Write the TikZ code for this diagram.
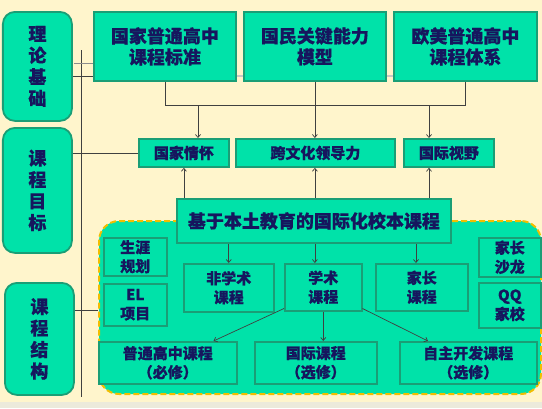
\documentclass[tikz,border=0pt]{standalone}
\usepackage{fontspec}
\setmainfont{Noto Sans CJK SC}[BoldFeatures={FakeBold=0.5}]
\usetikzlibrary{arrows.meta}
\definecolor{bg}{HTML}{FFF5CC}
\definecolor{boxfill}{HTML}{00E2A9}
\definecolor{boxline}{HTML}{1A9E76}
\definecolor{txt}{HTML}{16165E}
\definecolor{dashc}{HTML}{F2BE00}
\definecolor{conn}{HTML}{404040}
\definecolor{strip}{HTML}{ECEADB}
\begin{document}
\begin{tikzpicture}[x=1pt,y=-1pt,
 base/.style={draw=boxline, fill=boxfill, line width=1.8pt, text=txt, align=center, anchor=north west, inner sep=0pt},
 sidebox/.style={base, rounded corners=12pt, font=\bfseries\fontsize{18}{21.5}\selectfont},
 topbox/.style={base, font=\bfseries\fontsize{18}{21}\selectfont},
 goalbox/.style={base, font=\bfseries\fontsize{15}{17}\selectfont},
 mainbox/.style={base, font=\bfseries\fontsize{18}{21}\selectfont},
 subbox/.style={base, line width=1.5pt, font=\bfseries\fontsize{15}{19}\selectfont},
 region/.style={draw=dashc, fill=boxfill, line width=2pt, dash pattern=on 6pt off 3pt, rounded corners=20pt, anchor=north west, inner sep=0pt},
 link/.style={draw=conn, line width=0.7pt},
 arr/.style={link, -{Straight Barb[length=3pt,width=5pt]}},
 greylink/.style={draw=black!22, line width=1.5pt},
]
\path[use as bounding box, fill=bg] (0,0) rectangle (542,408);
\fill[strip] (0,402) rectangle (542,408);

% side lines
\coordinate (vt) at (81,50);
\coordinate (vb) at (81,397);
\draw[link] (vt) -- (vb);

% left boxes
\node[sidebox, minimum width=69pt, minimum height=109pt] (L1) at (2,11) {理\\论\\基\\础};
\node[sidebox, minimum width=69pt, minimum height=125pt] (L2) at (2,127) {课\\程\\目\\标};
\node[sidebox, minimum width=69pt, minimum height=112pt] (L3) at (4,282) {课\\程\\结\\构};

% top boxes
\node[topbox, minimum width=142pt, minimum height=69pt] (A) at (93,11) {国家普通高中\\课程标准};
\node[topbox, minimum width=142pt, minimum height=69pt] (B) at (243,11) {国民关键能力\\模型};
\node[topbox, minimum width=143pt, minimum height=69pt] (C) at (393,11) {欧美普通高中\\课程体系};

% goal boxes
\node[goalbox, minimum width=90pt, minimum height=28pt] (G1) at (138,138) {国家情怀};
\node[goalbox, minimum width=159pt, minimum height=28pt] (G2) at (235,138) {跨文化领导力};
\node[goalbox, minimum width=90pt, minimum height=28pt] (G3) at (403,138) {国际视野};

% region
\node[region, minimum width=442pt, minimum height=173pt] (R) at (98,220) {};

% main box
\node[mainbox, minimum width=274pt, minimum height=44pt] (M) at (176,198) {基于本土教育的国际化校本课程};

% inner boxes
\node[subbox, minimum width=63pt, minimum height=38pt] (S1) at (103,237) {生涯\\规划};
\node[subbox, minimum width=63pt, minimum height=42pt] (S2) at (103,283) {EL\\项目};
\node[subbox, minimum width=90pt, minimum height=48pt] (N) at (183,263) {非学术\\课程};
\node[subbox, minimum width=77pt, minimum height=47pt] (X) at (284,263) {学术\\课程};
\node[subbox, minimum width=92pt, minimum height=47pt] (P) at (375,263) {家长\\课程};
\node[subbox, minimum width=62pt, minimum height=39pt] (S3) at (478,237) {家长\\沙龙};
\node[subbox, minimum width=62pt, minimum height=45pt] (S4) at (478,282) {QQ\\家校};
\node[subbox, minimum width=138pt, minimum height=42pt] (B1) at (98,341) {普通高中课程\\（必修）};
\node[subbox, minimum width=122pt, minimum height=42pt] (B2) at (254,341) {国际课程\\（选修）};
\node[subbox, minimum width=137pt, minimum height=42pt] (B3) at (399,341) {自主开发课程\\（选修）};

% links from left boxes
\draw[greylink, line width=1pt, draw=black!45] (74,63) -- (A.west |- 0,63);
\draw[link, line width=1pt] (L1.east |- 0,76) -- (A.west |- 0,76);
\draw[link] (L2.east |- G1.west) -- (G1.west);
\draw[link] (L3.east |- 0,310) -- (R.west |- 0,310);

% grey links between top boxes
\draw[greylink] (A.east |- 0,76) -- (B.west |- 0,76);
\draw[greylink] (B.east |- 0,76) -- (C.west |- 0,76);

% top connectors
\coordinate (j1) at (198,105);
\coordinate (j3) at (429,105);
\draw[link] (A.south) -- (A.south |- j1) -- (C.south |- j1) -- (C.south);
\draw[arr] (j1) -- (j1 |- G1.north);
\draw[arr] (j3) -- (j3 |- G3.north);
\draw[arr] (B.south) -- (B.south |- G2.north);

% up arrows from main box
\draw[arr] (M.north -| G1.south) -- (G1.south);
\draw[arr] (M.north -| B.south) -- (B.south |- G2.south);
\draw[arr] (M.north -| j3) -- (G3.south -| j3);

% down arrows from main box
\coordinate (jp) at (416,250);
\draw[arr] (M.south -| N.north) -- (N.north);
\draw[arr] (M.south -| B.south) -- (X.north -| B.south);
\draw[arr] (M.south -| jp) -- (P.north -| jp);

% from academic courses
\draw[arr] (X.south) -- (X.south |- B2.north);
\draw[arr] ([yshift=3pt]X.south west) -- ([xshift=-24pt]B1.north east);
\draw[arr] ([yshift=3pt]X.south east) -- ([xshift=29pt]B3.north west);
\end{tikzpicture}
\end{document}
